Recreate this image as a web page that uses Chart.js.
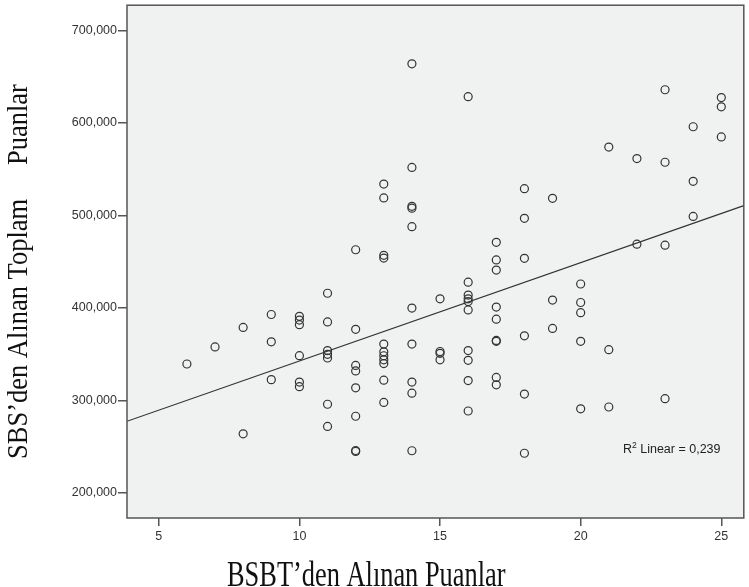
<!DOCTYPE html>
<html>
<head>
<meta charset="utf-8">
<script src="https://cdn.jsdelivr.net/npm/chart.js@4/dist/chart.umd.min.js"></script>
<style>
  html, body { margin: 0; padding: 0; background: #fff; }
  #wrap { width: 749px; height: 587px; }
</style>
</head>
<body>
<div id="wrap"><canvas id="myChart" width="749" height="587"></canvas></div>
<script>
// BSBT scores (x) and SBS total scores (y)
var bsbtScores = [
    6, 7, 8, 8, 9, 9, 9,
    10, 10, 10, 10, 10, 10,
    11, 11, 11, 11, 11, 11, 11,
    12, 12, 12, 12, 12, 12, 12, 12,
    13, 13, 13, 13, 13, 13, 13, 13, 13, 13, 13,
    14, 14, 14, 14, 14, 14, 14, 14, 14, 14,
    15, 15, 15, 15,
    16, 16, 16, 16, 16, 16, 16, 16, 16, 16,
    17, 17, 17, 17, 17, 17, 17, 17, 17,
    18, 18, 18, 18, 18, 18,
    19, 19, 19,
    20, 20, 20, 20, 20,
    21, 21, 21,
    22, 22,
    23, 23, 23, 23,
    24, 24, 24,
    25, 25, 25
];
var sbsScores = [
    339500, 358000, 379000, 264000, 393000, 363500, 322600,
    391000, 387000, 382000, 348500, 320000, 315000,
    416000, 385000, 354000, 350000, 346000, 296000, 272000,
    463000, 377000, 338000, 332000, 313700, 283000, 246000, 245000,
    534000, 519000, 457000, 454000, 361000, 352700, 348400, 344000, 340000, 322000, 298000,
    664000, 552000, 510000, 508000, 488000, 400000, 361000, 320000, 308000, 245700,
    410000, 353000, 351000, 344000,
    628500, 428000, 414000, 410000, 407000, 398000, 354000, 343500, 321600, 288700,
    471000, 452000, 441000, 401000, 388000, 365000, 364000, 325000, 317000,
    529000, 497000, 453700, 370000, 307000, 243000,
    518600, 408600, 378000,
    426000, 406000, 395000, 364000, 291000,
    574000, 355000, 293000,
    561600, 469000,
    636000, 557600, 468000, 302000,
    596000, 537000, 499000,
    627500, 617500, 585000
];

// fit line as drawn in the picture
var fitIntercept = 236400;
var fitSlope = 10630;
var r2Text = "0,239";

var xTicks = [5, 10, 15, 20, 25];
var yTicks = [200000, 300000, 400000, 500000, 600000, 700000];
var xRange = [3.87, 25.8];
var yRange = [173000, 727400];

var points = [];
for (var i = 0; i < bsbtScores.length; i++) {
    points.push({ x: bsbtScores[i], y: sbsScores[i] });
}
var fitLine = [
    { x: xRange[0], y: fitIntercept + fitSlope * xRange[0] },
    { x: xRange[1], y: fitIntercept + fitSlope * xRange[1] }
];

var serif = "'Liberation Serif', 'Times New Roman', serif";
var sans = "'Liberation Sans', Arial, sans-serif";

// plot background, border, R2 note and axis titles
var decor = {
    id: "decor",
    beforeDatasetsDraw: function(chart) {
        var a = chart.chartArea, ctx = chart.ctx;
        ctx.save();
        ctx.fillStyle = "#f0f1f1";
        ctx.fillRect(a.left, a.top, a.right - a.left, a.bottom - a.top);
        ctx.restore();
    },
    afterDraw: function(chart) {
        var a = chart.chartArea, ctx = chart.ctx;
        ctx.save();
        ctx.strokeStyle = "#555";
        ctx.lineWidth = 1.5;
        ctx.strokeRect(a.left, a.top, a.right - a.left, a.bottom - a.top);

        // R2 label
        ctx.fillStyle = "#222";
        ctx.textBaseline = "alphabetic";
        ctx.font = "12.5px " + sans;
        var rx = 623, ry = 453;
        ctx.fillText("R", rx, ry);
        var w = ctx.measureText("R").width;
        ctx.font = "8.5px " + sans;
        ctx.fillText("2", rx + w, ry - 5);
        var w2 = ctx.measureText("2").width;
        ctx.font = "12.5px " + sans;
        ctx.fillText(" Linear = " + r2Text, rx + w + w2, ry);
        ctx.restore();

        // x axis title (stretched a bit taller, like the source image)
        ctx.save();
        ctx.fillStyle = "#111";
        ctx.font = "26.4px " + serif;
        ctx.textAlign = "left";
        ctx.textBaseline = "alphabetic";
        ctx.translate(227, 586);
        ctx.scale(1, 1.38);
        ctx.fillText("BSBT\u2019den Alınan Puanlar", 0, 0);
        ctx.restore();

        // y axis title
        ctx.save();
        ctx.fillStyle = "#111";
        ctx.font = "26.5px " + serif;
        ctx.textAlign = "left";
        ctx.textBaseline = "alphabetic";
        ctx.translate(27, 0);
        ctx.rotate(-Math.PI / 2);
        ctx.scale(1, 1.1);
        ctx.fillText("SBS\u2019den Alınan Toplam", -459, 0);
        ctx.fillText("Puanlar", -165, 0);
        ctx.restore();
    }
};

var ctx = document.getElementById("myChart").getContext("2d");
var myChart = new Chart(ctx, {
    type: "scatter",
    data: {
        datasets: [{
            data: points,
            pointRadius: 4,
            pointHoverRadius: 4,
            pointBackgroundColor: "rgba(0,0,0,0)",
            pointBorderColor: "#333",
            pointBorderWidth: 1.2
        }, {
            type: "line",
            data: fitLine,
            borderColor: "#333",
            borderWidth: 1.2,
            pointRadius: 0,
            fill: false
        }]
    },
    options: {
        responsive: false,
        animation: false,
        layout: { padding: { top: 2, right: 2, left: 0, bottom: 0 } },
        plugins: {
            legend: { display: false },
            tooltip: { enabled: false }
        },
        scales: {
            x: {
                type: "linear",
                min: xRange[0],
                max: xRange[1],
                afterBuildTicks: function(scale) {
                    scale.ticks = xTicks.map(function(v) { return { value: v }; });
                },
                afterFit: function(scale) {
                    scale.height = 69;
                    scale.paddingLeft = 0;
                    scale.paddingRight = 0;
                },
                grid: { drawOnChartArea: false, drawTicks: true, tickLength: 8, tickColor: "#555", lineWidth: 1.5 },
                border: { display: false },
                ticks: {
                    color: "#333",
                    padding: 3,
                    font: { family: sans, size: 12.5 },
                    maxRotation: 0
                }
            },
            y: {
                type: "linear",
                min: yRange[0],
                max: yRange[1],
                afterBuildTicks: function(scale) {
                    scale.ticks = yTicks.map(function(v) { return { value: v }; });
                },
                afterFit: function(scale) {
                    scale.width = 127;
                    scale.paddingTop = 0;
                    scale.paddingBottom = 0;
                },
                grid: { drawOnChartArea: false, drawTicks: true, tickLength: 9, tickColor: "#555", lineWidth: 1.5 },
                border: { display: false },
                ticks: {
                    color: "#333",
                    padding: 1,
                    font: { family: sans, size: 12.5 },
                    callback: function(v) { return v.toLocaleString("en-US"); }
                }
            }
        }
    },
    plugins: [decor]
});
</script>
</body>
</html>
